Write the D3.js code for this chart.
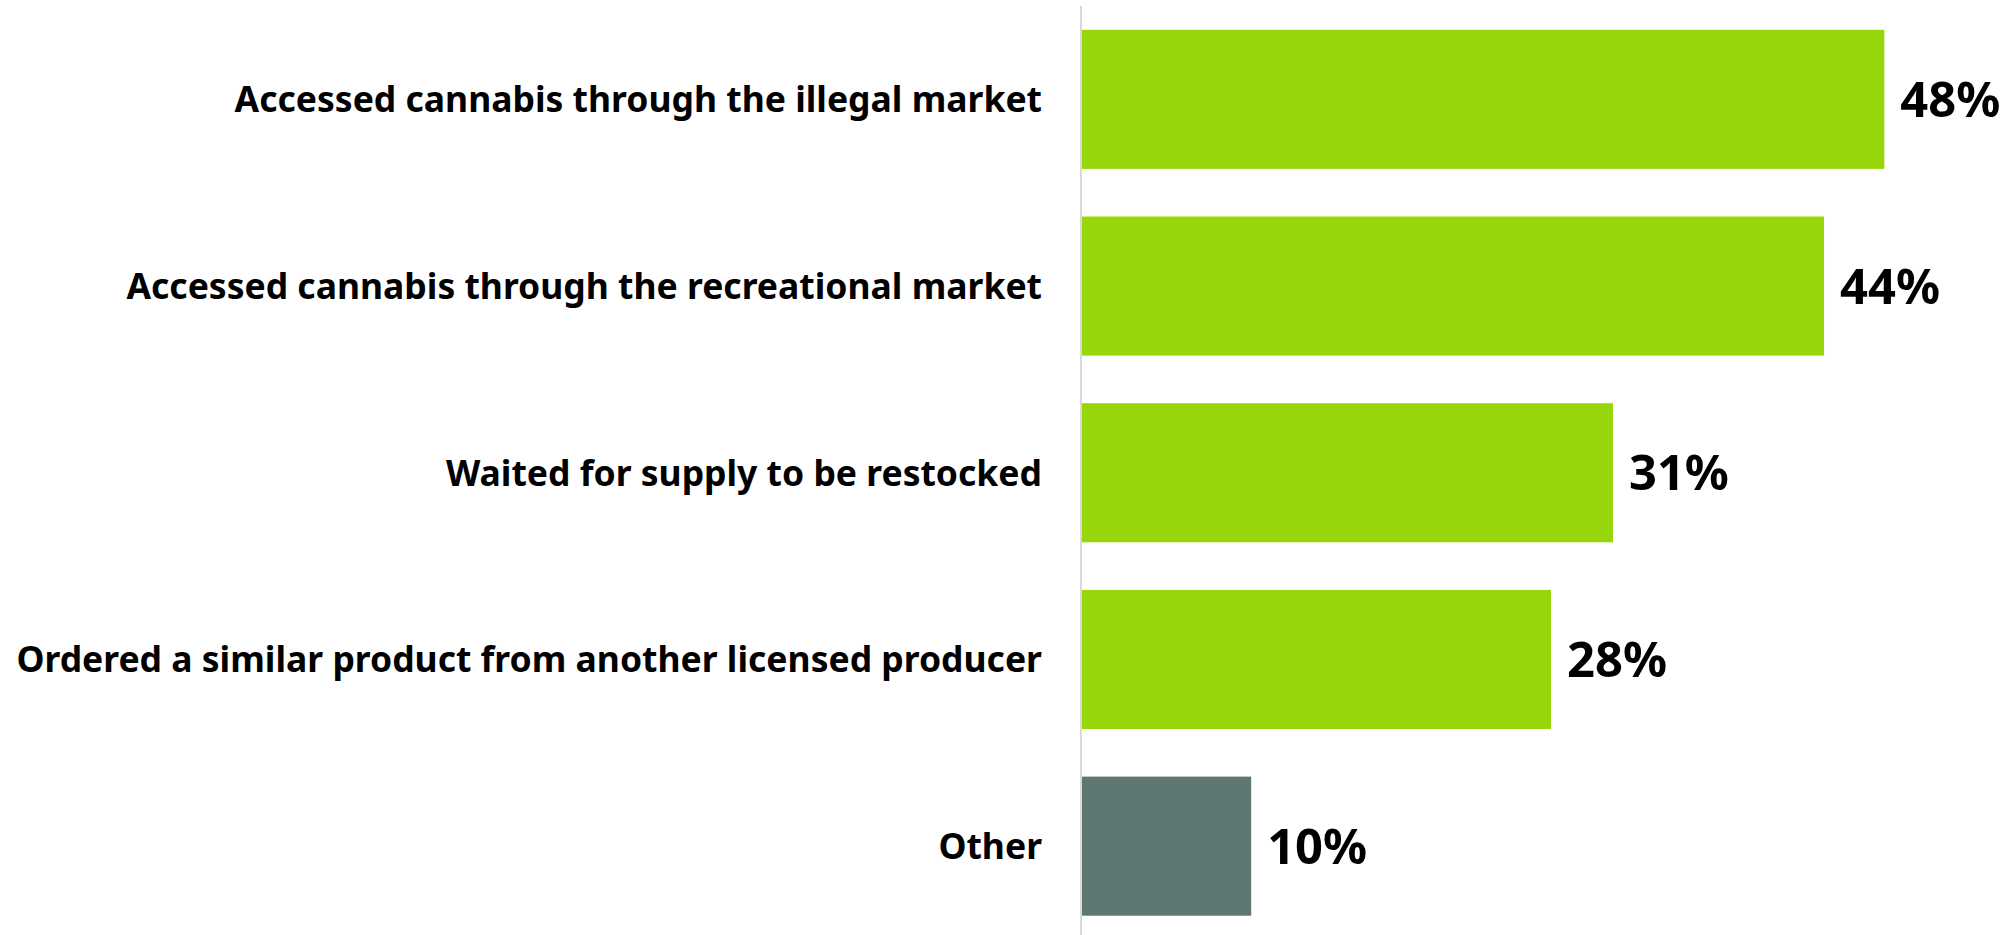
<!DOCTYPE html>
<html>
<head>
<meta charset="utf-8">
<script src="https://cdn.jsdelivr.net/npm/d3@7"></script>
<style>
  html, body { margin: 0; padding: 0; background: #ffffff; }
  svg { display: block; }
</style>
</head>
<body>
<svg id="chart" width="2011" height="935"></svg>
<script>
const categories = [
  "Accessed cannabis through the illegal market",
  "Accessed cannabis through the recreational market",
  "Waited for supply to be restocked",
  "Ordered a similar product from another licensed producer",
  "Other"
];
const values = [47.9, 44.3, 31.7, 28.0, 10.1];
const valueLabels = ["48%", "44%", "31%", "28%", "10%"];
const barColors = ["#97d60a", "#97d60a", "#97d60a", "#97d60a", "#5f7773"];

const svg = d3.select("#chart");
const W = 2011, H = 935;
const x0 = 1082;
const FONT = "'Noto Sans', Lato, sans-serif";

const x = d3.scaleLinear().domain([0, 50]).range([x0, x0 + 50 * 16.75]);
const y = d3.scaleBand().domain(categories).range([6, 939.5]).paddingInner(0.255).paddingOuter(0.1275);

// bars
svg.append("g").selectAll("rect")
  .data(categories)
  .join("rect")
  .attr("x", x(0))
  .attr("y", d => y(d))
  .attr("width", (d, i) => x(values[i]) - x(0))
  .attr("height", y.bandwidth())
  .attr("fill", (d, i) => barColors[i]);

// vertical axis line
svg.append("line")
  .attr("x1", x0 - 1).attr("x2", x0 - 1)
  .attr("y1", 6).attr("y2", H)
  .attr("stroke", "#d9d9d9")
  .attr("stroke-width", 2);

// category labels via axis
const axis = d3.axisLeft(y).tickSize(0).tickPadding(40);
const gA = svg.append("g").attr("transform", `translate(${x0},0)`).call(axis);
gA.select(".domain").remove();
const catText = gA.selectAll("text")
  .attr("font-family", FONT)
  .attr("font-weight", 700)
  .attr("font-size", 36)
  .attr("fill", "#000")
  .attr("dy", "0.36em");
// fit longest label to the reference width
let maxW = 0;
catText.each(function() { maxW = Math.max(maxW, this.getComputedTextLength()); });
const catSize = 36 * 1026 / maxW;
catText.attr("font-size", catSize);

// value labels
const valText = svg.append("g").selectAll("text")
  .data(categories)
  .join("text")
  .attr("x", (d, i) => x(values[i]) + 16)
  .attr("y", d => y(d) + y.bandwidth() / 2)
  .attr("dy", "0.36em")
  .attr("font-family", FONT)
  .attr("font-weight", 700)
  .attr("font-size", 46)
  .attr("fill", "#000")
  .text((d, i) => valueLabels[i]);
const w0 = valText.node().getComputedTextLength();
valText.attr("font-size", 46 * 100 / w0);
</script>
</body>
</html>
